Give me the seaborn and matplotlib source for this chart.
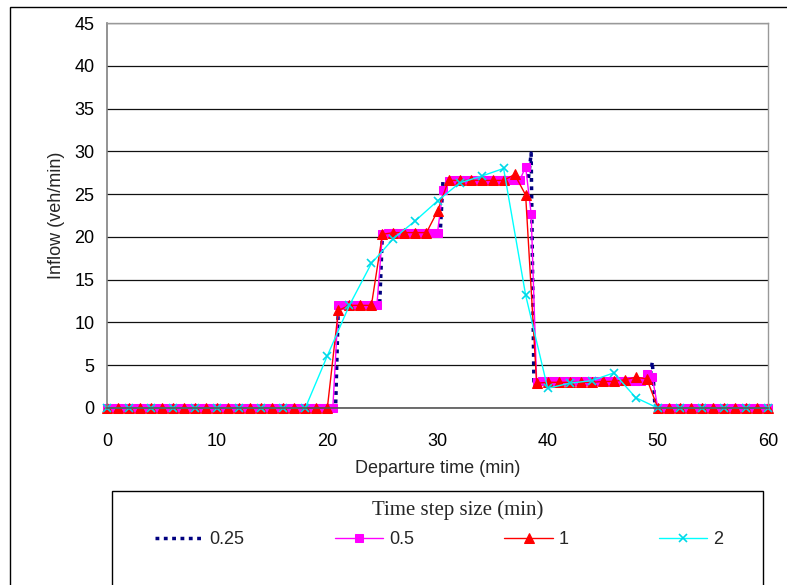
import numpy as np
import pandas as pd
import matplotlib
matplotlib.use("Agg")
import matplotlib.pyplot as plt
import seaborn as sns
from matplotlib.patches import Rectangle

sns.set_theme(style="white")
plt.rcParams['font.family'] = ['Liberation Sans', 'DejaVu Sans']

# ---- data ----
series_labels = ["0.25", "0.5", "1", "2"]

# 0.25-min step: breakpoints of the step profile
t_025 = [0, 20.75, 21, 24.75, 25, 30.25, 30.5, 38.25, 38.5, 38.75, 49.25, 49.5, 49.75, 60]
flow_025 = [0, 0, 12.0, 12.0, 20.5, 20.5, 26.6, 26.8, 29.8, 3.1, 3.2, 5.4, 0, 0]

# 0.5-min step
t_05 = np.arange(0, 60.5, 0.5)
flow_05 = [0, 0, 0, 0, 0, 0, 0, 0, 0, 0,
           0, 0, 0, 0, 0, 0, 0, 0, 0, 0,
           0, 0, 0, 0, 0, 0, 0, 0, 0, 0,
           0, 0, 0, 0, 0, 0, 0, 0, 0, 0,
           0, 0,
           12.0, 12.0, 12.0, 12.0, 12.0, 12.0, 12.0, 12.0,
           20.3,
           20.5, 20.5, 20.5, 20.5, 20.5, 20.5, 20.5, 20.5, 20.5, 20.5,
           25.5, 26.5,
           26.7, 26.7, 26.7, 26.7, 26.7, 26.7, 26.7, 26.7, 26.7, 26.7, 26.7, 26.7, 26.7,
           28.2, 22.7, 3.0,
           3.1, 3.1, 3.1, 3.1, 3.1, 3.1, 3.1, 3.1, 3.1, 3.1,
           3.1, 3.1, 3.1, 3.1, 3.1, 3.1, 3.1, 3.1, 3.1,
           4.0, 3.6,
           0, 0, 0, 0, 0, 0, 0, 0, 0, 0,
           0, 0, 0, 0, 0, 0, 0, 0, 0, 0, 0]

# 1-min step
t_1 = np.arange(0, 61, 1)
flow_1 = [0, 0, 0, 0, 0, 0, 0, 0, 0, 0, 0,
          0, 0, 0, 0, 0, 0, 0, 0, 0, 0,
          11.4, 12.0, 12.0, 12.0, 20.3, 20.5, 20.5, 20.5, 20.5, 23.0,
          26.6, 26.6, 26.6, 26.6, 26.6, 26.6, 27.3, 24.9, 2.9, 3.0,
          3.0, 3.0, 3.0, 3.0, 3.1, 3.1, 3.3, 3.6, 3.4, 0,
          0, 0, 0, 0, 0, 0, 0, 0, 0, 0]

# 2-min step
t_2 = np.arange(0, 62, 2)
flow_2 = [0, 0, 0, 0, 0, 0, 0, 0, 0, 0,
          6.1, 12.0, 16.9, 19.8, 21.9, 24.2, 26.3, 27.1, 28.0, 13.2,
          2.3, 2.9, 3.2, 4.1, 1.2, 0, 0, 0, 0, 0, 0]

x_ticks = [0, 10, 20, 30, 40, 50, 60]
y_ticks = [0, 5, 10, 15, 20, 25, 30, 35, 40, 45]

W, H = 787, 585
fig = plt.figure(figsize=(W / 100, H / 100), dpi=100)
ax = fig.add_axes([107 / W, 1 - 408 / H, (768 - 107) / W, (408 - 23) / H])

sns.lineplot(x=t_025, y=flow_025, ax=ax, color="#000080", lw=2.5,
             linestyle=(0, (1.1, 1.3)), sort=False, estimator=None,
             label=series_labels[0])
sns.lineplot(x=t_05, y=flow_05, ax=ax, color="#FF00FF", lw=1.0, marker="s",
             markersize=6, markeredgecolor="#FF00FF", sort=False, estimator=None,
             label=series_labels[1])
sns.lineplot(x=t_1, y=flow_1, ax=ax, color="#FF0000", lw=1.0, marker="^",
             markersize=7, markeredgecolor="#FF0000", sort=False, estimator=None,
             label=series_labels[2])
sns.lineplot(x=t_2, y=flow_2, ax=ax, color="#00FFFF", lw=1.0, marker="x",
             markersize=5.5, markeredgewidth=1.2, markeredgecolor="#00D8E8",
             sort=False, estimator=None, label=series_labels[3])

for ln in ax.lines:
    ln.set_clip_on(False)

ax.set_xlim(0, 60)
ax.set_ylim(0, 45)
ax.set_xticks(x_ticks)
ax.set_yticks(y_ticks)
ax.yaxis.grid(True, color="#111111", lw=0.9)
ax.xaxis.grid(False)
ax.set_axisbelow(True)

for side in ["top", "right"]:
    ax.spines[side].set_color("#999999")
    ax.spines[side].set_linewidth(1.0)
ax.spines["left"].set_color("#808080")
ax.spines["bottom"].set_color("#555555")
ax.spines["left"].set_linewidth(1.2)
ax.spines["bottom"].set_linewidth(1.2)

ax.tick_params(axis="both", direction="out", length=5, width=1,
               color="#555555", labelsize=13, labelcolor="black")
ax.tick_params(axis="x", pad=13)
ax.tick_params(axis="y", pad=4)

ax.set_xlabel("Departure time (min)", fontsize=13, labelpad=7)
ax.set_ylabel("Inflow (veh/min)", fontsize=13, labelpad=7)

handles, labels = ax.get_legend_handles_labels()
if ax.get_legend() is not None:
    ax.get_legend().remove()

# legend frame (extends below the figure)
fig.add_artist(Rectangle((111.5 / W, -0.05), (763 - 111.5) / W, (1 - 491 / H) + 0.05,
                         transform=fig.transFigure, fill=False,
                         edgecolor="black", lw=1.0, clip_on=False))
# outer chart border
fig.add_artist(Rectangle((9.5 / W, -0.05), 1.1, (1 - 7 / H) + 0.05,
                         transform=fig.transFigure, fill=False,
                         edgecolor="black", lw=1.0, clip_on=False))

fig.text(458 / W, 1 - 510 / H, "Time step size (min)", ha="center", va="center",
         fontsize=15, family=["Liberation Serif", "DejaVu Serif"])
fig.legend(handles, labels, ncol=4, loc="center",
           bbox_to_anchor=(439 / W, 1 - 540 / H), frameon=False,
           handlelength=2.7, handletextpad=0.3, columnspacing=5.0,
           fontsize=13)

fig.savefig("out.png", dpi=100)
